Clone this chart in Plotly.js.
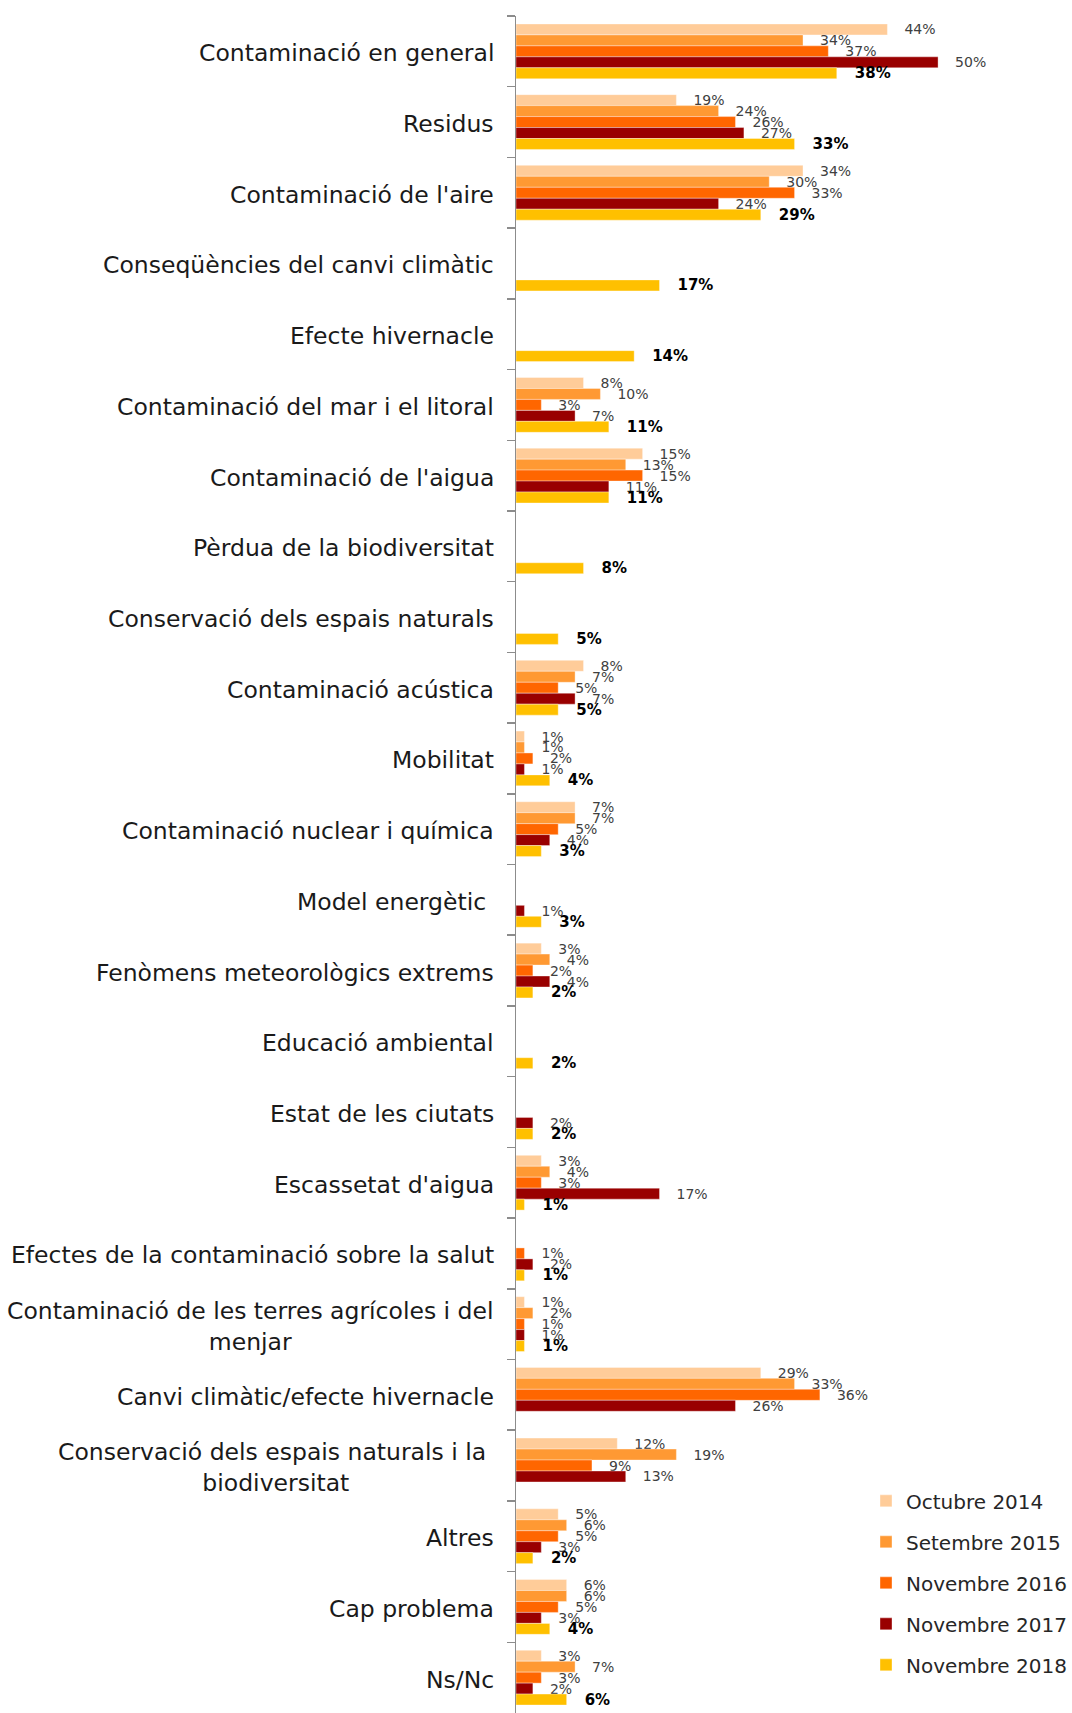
<!DOCTYPE html>
<html>
<head>
<meta charset="utf-8">
<script src="https://cdn.plot.ly/plotly-3.0.1.min.js"></script>
<style>
html,body{margin:0;padding:0;background:#ffffff;}
#chart{width:1072px;height:1713px;}
</style>
</head>
<body>
<div id="chart"></div>
<script>
// Categories (top to bottom)
const categories = [
  "Contaminació en general",
  "Residus",
  "Contaminació de l'aire",
  "Conseqüències del canvi climàtic",
  "Efecte hivernacle",
  "Contaminació del mar i el litoral",
  "Contaminació de l'aigua",
  "Pèrdua de la biodiversitat",
  "Conservació dels espais naturals",
  "Contaminació acústica",
  "Mobilitat",
  "Contaminació nuclear i química",
  "Model energètic",
  "Fenòmens meteorològics extrems",
  "Educació ambiental",
  "Estat de les ciutats",
  "Escassetat d'aigua",
  "Efectes de la contaminació sobre la salut",
  "Contaminació de les terres agrícoles i del menjar",
  "Canvi climàtic/efecte hivernacle",
  "Conservació dels espais naturals i la biodiversitat",
  "Altres",
  "Cap problema",
  "Ns/Nc"
];

// Tick labels as shown in the chart
const catLabels = [
  "Contaminació en general",
  "Residus",
  "Contaminació de l'aire",
  "Conseqüències del canvi climàtic",
  "Efecte hivernacle",
  "Contaminació del mar i el litoral",
  "Contaminació de l'aigua",
  "Pèrdua de la biodiversitat",
  "Conservació dels espais naturals",
  "Contaminació acústica",
  "Mobilitat",
  "Contaminació nuclear i química",
  "Model energètic\u00a0",
  "Fenòmens meteorològics extrems",
  "Educació ambiental",
  "Estat de les ciutats",
  "Escassetat d'aigua",
  "Efectes de la contaminació sobre la salut",
  "Contaminació de les terres agrícoles i del<br>menjar",
  "Canvi climàtic/efecte hivernacle",
  "Conservació dels espais naturals i la\u00a0<br>biodiversitat",
  "Altres",
  "Cap problema",
  "Ns/Nc"
];

const seriesNames = ["Octubre 2014", "Setembre 2015", "Novembre 2016", "Novembre 2017", "Novembre 2018"];

const oct2014 = [44, 19, 34, null, null, 8, 15, null, null, 8, 1, 7, null, 3, null, null, 3, null, 1, 29, 12, 5, 6, 3];
const set2015 = [34, 24, 30, null, null, 10, 13, null, null, 7, 1, 7, null, 4, null, null, 4, null, 2, 33, 19, 6, 6, 7];
const nov2016 = [37, 26, 33, null, null, 3, 15, null, null, 5, 2, 5, null, 2, null, null, 3, 1, 1, 36, 9, 5, 5, 3];
const nov2017 = [50, 27, 24, null, null, 7, 11, null, null, 7, 1, 4, 1, 4, null, 2, 17, 2, 1, 26, 13, 3, 3, 2];
const nov2018 = [38, 33, 29, 17, 14, 11, 11, 8, 5, 5, 4, 3, 3, 2, 2, 2, 1, 1, 1, null, null, 2, 4, 6];

const seriesValues = [oct2014, set2015, nov2016, nov2017, nov2018];
const seriesColors = ["#FFCC99", "#FF9933", "#FF6600", "#990000", "#FFC000"];

const FONT = "DejaVu Sans, Verdana, sans-serif";

const traces = seriesValues.map((vals, i) => {
  const isLast = i === seriesValues.length - 1;
  return {
    type: "bar",
    orientation: "h",
    name: seriesNames[i],
    legendgroup: "g" + i,
    y: categories,
    x: vals,
    marker: { color: seriesColors[i], line: { color: "rgba(255,255,255,0.45)", width: 0.8 } },
    texttemplate: "\u2002\u2002%{x}%",
    textposition: "outside",
    constraintext: "none",
    textangle: 0,
    cliponaxis: false,
    textfont: isLast
      ? { family: FONT, size: 15, color: "#000000", weight: "bold" }
      : { family: FONT, size: 14, color: "#404040" },
    hoverinfo: "skip"
  };
});

const layout = {
  width: 1072,
  height: 1713,
  margin: { l: 516, r: 0, t: 16, b: 0, pad: 0 },
  barmode: "group",
  bargap: 0.225,
  bargroupgap: 0,
  paper_bgcolor: "#ffffff",
  plot_bgcolor: "#ffffff",
  font: { family: FONT, color: "#262626" },
  showlegend: true,
  xaxis: {
    range: [0, 64.8],
    visible: false,
    fixedrange: true
  },
  yaxis: {
    type: "category",
    categoryorder: "array",
    categoryarray: categories,
    autorange: "reversed",
    showline: true,
    linecolor: "#8c8c8c",
    linewidth: 1.5,
    ticks: "outside",
    ticklen: 8,
    tickwidth: 1.5,
    tickcolor: "#8c8c8c",
    tickson: "boundaries",
    showticklabels: false,
    showgrid: false,
    zeroline: false,
    fixedrange: true
  },
  legend: {
    x: 0.64,
    xanchor: "left",
    y: 0.1365,
    yanchor: "top",
    font: { family: FONT, size: 20, color: "#262626" },
    traceorder: "grouped",
    tracegroupgap: 12,
    bgcolor: "rgba(0,0,0,0)",
    itemwidth: 30
  },
  annotations: categories.map((c, i) => ({
    xref: "paper",
    x: 0,
    xanchor: "right",
    xshift: -20,
    yref: "y",
    y: c,
    yanchor: "middle",
    yshift: -2,
    text: catLabels[i],
    showarrow: false,
    align: "center",
    font: { family: FONT, size: 23.5, color: "#1a1a1a" }
  }))
};

Plotly.newPlot("chart", traces, layout, { displayModeBar: false, staticPlot: true });
</script>
</body>
</html>
